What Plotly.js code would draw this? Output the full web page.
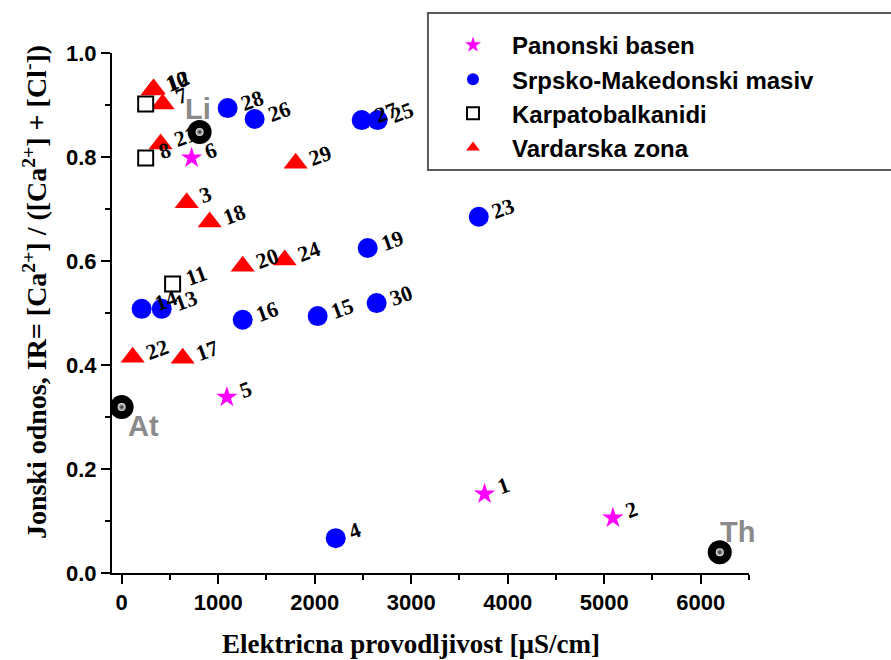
<!DOCTYPE html>
<html>
<head>
<meta charset="utf-8">
<script src="https://cdn.plot.ly/plotly-3.0.1.min.js"></script>
<style>html,body{margin:0;padding:0;background:#fff;}#chart{width:891px;height:660px;}</style>
</head>
<body>
<div id="chart"></div>
<script>
// ---- data ----
const seriesNames = ["Panonski basen", "Srpsko-Makedonski masiv", "Karpatobalkanidi", "Vardarska zona"];

const panonskiX = [3760, 5090, 1090, 725];
const panonskiY = [0.152, 0.106, 0.338, 0.798];
const panonskiLabels = ["1", "2", "5", "6"];

const srpskoX = [2218, 1098, 1378, 2487, 2653, 3700, 2549, 2642, 2031, 1254, 207, 415];
const srpskoY = [0.067, 0.894, 0.873, 0.871, 0.871, 0.685, 0.625, 0.519, 0.494, 0.487, 0.508, 0.508];
const srpskoLabels = ["4", "28", "26", "27", "25", "23", "19", "30", "15", "16", "14", "13"];

const karpatoX = [249, 249, 528];
const karpatoY = [0.902, 0.798, 0.556];
const karpatoLabels = ["", "8", "11"];

const vardarX = [321, 332, 425, 404, 674, 912, 1803, 1254, 1689, 114, 632];
const vardarY = [0.929, 0.931, 0.902, 0.825, 0.712, 0.675, 0.788, 0.590, 0.602, 0.415, 0.413];
const vardarLabels = ["10", "12", "7", "21", "3", "18", "29", "20", "24", "22", "17"];

const refX = [808, 0, 6197];
const refY = [0.848, 0.319, 0.040];
const refLabels = ["Li", "At", "Th"];

const xTickVals = [0, 1000, 2000, 3000, 4000, 5000, 6000];
const yTickVals = [0, 0.2, 0.4, 0.6, 0.8, 1.0];

const xTitle = "Elektricna provodljivost [µS/cm]";
const yTitle = "Jonski odnos, IR= [Ca<sup>2+</sup>] / ([Ca<sup>2+</sup>] + [Cl<sup>-</sup>])";

// ---- styles ----
const serif = "Liberation Serif, Times New Roman, serif";
const sans = "Liberation Sans, Arial, sans-serif";
const refLabelShift = [[-2, 23], [22, -19], [18, 20]];

const traces = [
  {x: vardarX, y: vardarY, name: seriesNames[3], legendgroup: "g4", legendrank: 4, mode: "markers", type: "scatter",
   marker: {symbol: "triangle-up", size: 21, color: "#ff0000", line: {width: 0}}},
  {x: srpskoX, y: srpskoY, name: seriesNames[1], legendgroup: "g2", legendrank: 2, mode: "markers", type: "scatter",
   marker: {symbol: "circle", size: 20, color: "#0000ff", line: {width: 0}}},
  {x: panonskiX, y: panonskiY, name: seriesNames[0], legendgroup: "g1", legendrank: 1, mode: "markers", type: "scatter",
   marker: {symbol: "star", size: 16, color: "#ff00ff", line: {width: 0}}},
  {x: karpatoX, y: karpatoY, name: seriesNames[2], legendgroup: "g3", legendrank: 3, mode: "markers", type: "scatter",
   marker: {symbol: "square", size: 15, color: "#ffffff", line: {width: 2, color: "#000000"}}},
  {x: refX, y: refY, name: "ref", showlegend: false, mode: "markers", type: "scatter",
   marker: {symbol: "circle", size: 24, color: "#000000", line: {width: 0}}},
  {x: refX, y: refY, name: "ref-hl", showlegend: false, mode: "markers", type: "scatter",
   marker: {symbol: "circle", size: 8, color: "#f2f2f2", gradient: {type: "radial", color: "#222222"}, line: {width: 0}}}
];

const annotations = [];
function addLabels(xs, ys, labels) {
  for (let i = 0; i < xs.length; i++) {
    if (!labels[i]) continue;
    annotations.push({x: xs[i], y: ys[i], xref: "x", yref: "y", text: labels[i], showarrow: false,
      xanchor: "left", yanchor: "middle", xshift: 7, yshift: 8, textangle: -20,
      font: {family: serif, size: 22, weight: "bold", color: "#000"}});
  }
}
addLabels(vardarX, vardarY, vardarLabels);
addLabels(srpskoX, srpskoY, srpskoLabels);
addLabels(panonskiX, panonskiY, panonskiLabels);
addLabels(karpatoX, karpatoY, karpatoLabels);
for (let i = 0; i < refX.length; i++) {
  annotations.push({x: refX[i], y: refY[i], xref: "x", yref: "y", text: refLabels[i], showarrow: false,
    xanchor: "center", yanchor: "middle", xshift: refLabelShift[i][0], yshift: refLabelShift[i][1],
    font: {family: sans, size: 29, weight: "bold", color: "#8a8a8a"}});
}
annotations.push({x: 0.469, y: -0.137, xref: "paper", yref: "paper", text: xTitle, showarrow: false,
  xanchor: "center", yanchor: "middle", font: {family: serif, size: 27, weight: "bold", color: "#000"}});
annotations.push({x: -0.121, y: 0.54, xref: "paper", yref: "paper", text: yTitle, showarrow: false,
  textangle: -90, xanchor: "center", yanchor: "middle", font: {family: serif, size: 28, weight: "bold", color: "#000"}});

const layout = {
  width: 891, height: 660,
  margin: {l: 112, r: 142, t: 53, b: 87, pad: 0},
  paper_bgcolor: "#fff", plot_bgcolor: "#fff",
  showlegend: true,
  legend: {x: 0.5055, y: 1.058, xanchor: "left", yanchor: "top", bgcolor: "rgba(0,0,0,0)", borderwidth: 0,
    font: {family: sans, size: 24, weight: "bold", color: "#000"}, itemsizing: "constant", itemwidth: 68,
    tracegroupgap: 0},
  xaxis: {range: [-100, 6500], tickvals: xTickVals, ticktext: xTickVals.map(String), ticks: "outside", ticklen: 9, tickwidth: 2,
    tickcolor: "#000", showline: true, linecolor: "#000", linewidth: 2, showgrid: false, zeroline: false,
    tickfont: {family: sans, size: 22, weight: "bold", color: "#000"},
    minor: {dtick: 500, tick0: 0, ticks: "outside", ticklen: 5, tickwidth: 2, tickcolor: "#000", showgrid: false}},
  yaxis: {range: [0, 1], tickvals: yTickVals, tickformat: ".1f", ticks: "outside", ticklen: 9, tickwidth: 2,
    tickcolor: "#000", showline: true, linecolor: "#000", linewidth: 2, showgrid: false, zeroline: false,
    tickfont: {family: sans, size: 22, weight: "bold", color: "#000"},
    minor: {dtick: 0.1, tick0: 0, ticks: "outside", ticklen: 5, tickwidth: 2, tickcolor: "#000", showgrid: false}},
  shapes: [
    {type: "rect", xref: "paper", yref: "paper", x0: 0.496, x1: 1.3, y0: 0.775, y1: 1.077,
     line: {color: "#5a5a5a", width: 2}, fillcolor: "rgba(0,0,0,0)", layer: "below"}
  ],
  annotations: annotations
};

Plotly.newPlot("chart", traces, layout, {staticPlot: true, displayModeBar: false});
</script>
</body>
</html>
